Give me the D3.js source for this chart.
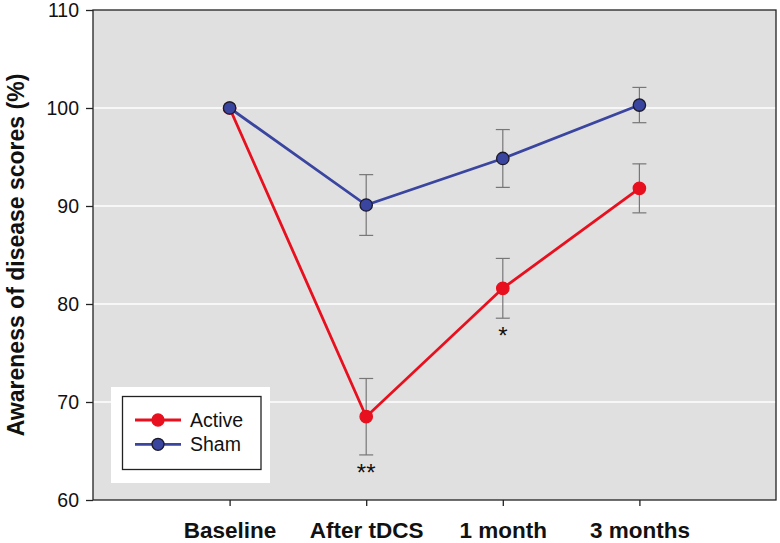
<!DOCTYPE html>
<html><head><meta charset="utf-8">
<script src="https://cdn.jsdelivr.net/npm/d3@7"></script>
<style>body{margin:0;background:#fff;}svg{display:block;font-family:"Liberation Sans",Arial,sans-serif;}</style>
</head><body>
<svg id="c" width="780" height="543"></svg>
<script>
const categories = ["Baseline", "After tDCS", "1 month", "3 months"];
const activeValues = [100, 68.5, 81.6, 91.8];
const activeErrors = [0, 3.9, 3.05, 2.5];
const shamValues = [100, 90.1, 94.85, 100.3];
const shamErrors = [0, 3.1, 2.95, 1.8];
const yTicks = [60, 70, 80, 90, 100, 110];
const significance = [{cat: "After tDCS", label: "**", v: 64.6}, {cat: "1 month", label: "*", v: 78.55}];

const svg = d3.select("#c");
const L = 93, R = 776, T = 10, B = 500;
const x = d3.scaleLinear().domain([0, 5]).range([L, R]);
const xc = c => x(categories.indexOf(c) + 1);
const y = d3.scaleLinear().domain([60, 110]).range([B, T]);

svg.append("rect").attr("x", L).attr("y", T).attr("width", R - L).attr("height", B - T).attr("fill", "#e1e0e0");
// grid
svg.append("g").selectAll("line").data(yTicks.filter(d => d > 60 && d < 110)).join("line")
  .attr("x1", L).attr("x2", R).attr("y1", d => y(d)).attr("y2", d => y(d))
  .attr("stroke", "#fff").attr("stroke-width", 1.3);
svg.append("rect").attr("x", L).attr("y", T).attr("width", R - L).attr("height", B - T)
  .attr("fill", "none").attr("stroke", "#222").attr("stroke-width", 1.3);

// y axis
const ya = svg.append("g").attr("transform", `translate(${L},0)`)
  .call(d3.axisLeft(y).tickValues(yTicks).tickSize(7).tickPadding(7));
ya.select(".domain").remove();
ya.selectAll("line").attr("stroke", "#222").attr("stroke-width", 1.3);
ya.selectAll("text").attr("font-size", 19.5).attr("fill", "#111").attr("font-family", "Liberation Sans, Arial, sans-serif").attr("dy", "0.35em");

// x axis
const xa = svg.append("g").attr("transform", `translate(0,${B})`)
  .call(d3.axisBottom(x).tickValues(categories.map((c, i) => i + 1)).tickFormat(i => categories[i - 1]).tickSize(6).tickPadding(16));
xa.select(".domain").remove();
xa.selectAll("line").attr("stroke", "#222").attr("stroke-width", 1.3);
xa.selectAll("text").attr("font-size", 22.5).attr("font-weight", "bold").attr("fill", "#111").attr("font-family", "Liberation Sans, Arial, sans-serif");

// y title
svg.append("text").attr("transform", "translate(24,255) rotate(-90)").attr("text-anchor", "middle")
  .attr("font-size", 23).attr("font-weight", "bold").attr("fill", "#111").text("Awareness of disease scores (%)");

function drawSeries(vals, errs, color, markerStroke) {
  const g = svg.append("g");
  const pts = vals.map((v, i) => ({i, v, e: errs[i]}));
  g.selectAll("g.eb").data(pts.filter(p => p.e > 0)).join("g").each(function(p) {
    const s = d3.select(this), cx = x(p.i + 1);
    s.append("line").attr("x1", cx).attr("x2", cx).attr("y1", y(p.v + p.e)).attr("y2", y(p.v - p.e));
    s.append("line").attr("x1", cx - 7).attr("x2", cx + 7).attr("y1", y(p.v + p.e)).attr("y2", y(p.v + p.e));
    s.append("line").attr("x1", cx - 7).attr("x2", cx + 7).attr("y1", y(p.v - p.e)).attr("y2", y(p.v - p.e));
    s.selectAll("line").attr("stroke", "#777").attr("stroke-width", 1.2);
  });
  g.append("path").datum(pts).attr("fill", "none").attr("stroke", color).attr("stroke-width", 2.8)
    .attr("d", d3.line().x(p => x(p.i + 1)).y(p => y(p.v)));
  g.selectAll("circle").data(pts).join("circle").attr("cx", p => x(p.i + 1)).attr("cy", p => y(p.v)).attr("r", 6.2)
    .attr("fill", color).attr("stroke", markerStroke).attr("stroke-width", 1.3);
}
drawSeries(activeValues, activeErrors, "#e8101e", "#e8101e");
drawSeries(shamValues, shamErrors, "#3a45a0", "#1a1a2a");

// significance
svg.selectAll("text.sig").data(significance).join("text").attr("class", "sig")
  .attr("x", d => xc(d.cat)).attr("y", d => y(d.v) + 26).attr("text-anchor", "middle")
  .attr("font-size", 24).attr("fill", "#111").text(d => d.label);

// legend
const lg = svg.append("g");
lg.append("rect").attr("x", 111).attr("y", 387).attr("width", 159).attr("height", 96).attr("fill", "#fff");
lg.append("rect").attr("x", 122.5).attr("y", 396.5).attr("width", 138.5).attr("height", 73).attr("fill", "#fff").attr("stroke", "#222").attr("stroke-width", 1.3);
const legendItems = [{name: "Active", color: "#e8101e", stroke: "#e8101e"}, {name: "Sham", color: "#3a45a0", stroke: "#1a1a2a"}];
legendItems.forEach((d, i) => {
  const yy = 420 + i * 24.3;
  lg.append("line").attr("x1", 135).attr("x2", 181).attr("y1", yy).attr("y2", yy).attr("stroke", d.color).attr("stroke-width", 2.8);
  lg.append("circle").attr("cx", 158).attr("cy", yy).attr("r", 6).attr("fill", d.color).attr("stroke", d.stroke).attr("stroke-width", 1.3);
  lg.append("text").attr("x", 190).attr("y", yy).attr("dy", "0.36em").attr("font-size", 19.5).attr("fill", "#111").text(d.name);
});
</script>
</body></html>
